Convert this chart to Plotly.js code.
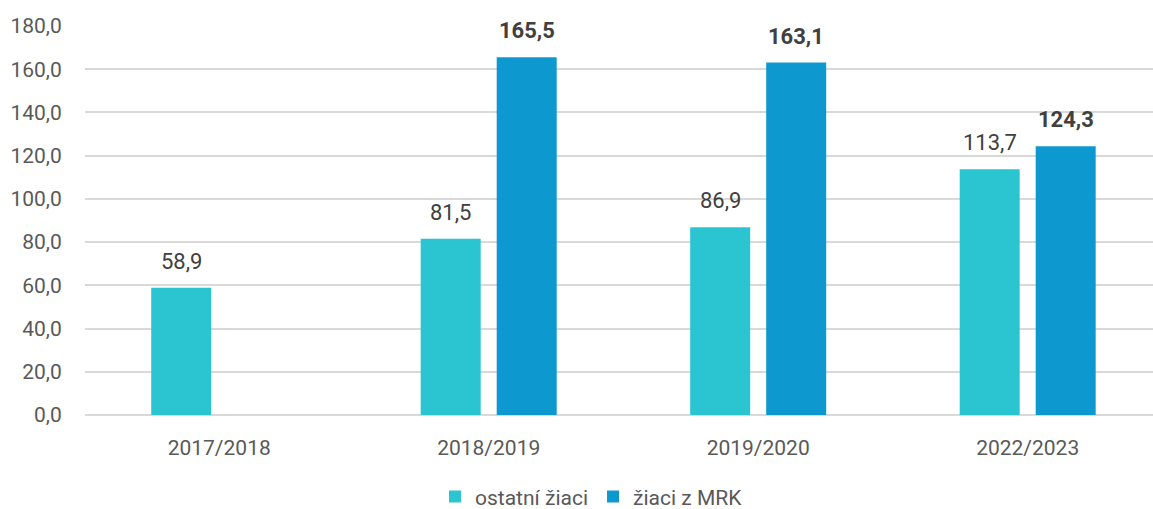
<!DOCTYPE html>
<html>
<head>
<meta charset="utf-8">
<script src="https://cdn.plot.ly/plotly-3.0.1.min.js"></script>
<style>html,body{margin:0;padding:0;background:#fff;}#chart{width:1153px;height:509px;}</style>
</head>
<body>
<div id="chart"></div>
<script>
const categories = ["2017/2018", "2018/2019", "2019/2020", "2022/2023"];
const ostatniZiaci = [58.9, 81.5, 86.9, 113.7];
const ziaciMRK = [null, 165.5, 163.1, 124.3];
const seriesNames = ["ostatní žiaci", "žiaci z MRK"];

const FONT = "Roboto, 'Noto Sans', sans-serif";
const fmt = v => v.toFixed(1).replace(".", ",");

const traces = [
  {
    type: "bar", name: seriesNames[0], x: categories, y: ostatniZiaci,
    marker: {color: "#2BC5D1"}, hoverinfo: "none"
  },
  {
    type: "bar", name: seriesNames[1], x: categories, y: ziaciMRK,
    marker: {color: "#0E98D0"}, hoverinfo: "none"
  }
];

const annotations = [];
categories.forEach((c, i) => {
  if (ostatniZiaci[i] != null) annotations.push({
    x: c, y: ostatniZiaci[i], xref: "x", yref: "y", text: fmt(ostatniZiaci[i]),
    showarrow: false, xanchor: "center", yanchor: "bottom", xshift: -38, yshift: 12,
    font: {family: FONT, size: 22, color: "#404040"}
  });
  if (ziaciMRK[i] != null) annotations.push({
    x: c, y: ziaciMRK[i], xref: "x", yref: "y", text: "<b>" + fmt(ziaciMRK[i]) + "</b>",
    showarrow: false, xanchor: "center", yanchor: "bottom", xshift: 38, yshift: 12,
    font: {family: FONT, size: 22, color: "#404040"}
  });
});

const layout = {
  width: 1153, height: 509,
  margin: {l: 85, r: 0, t: 26, b: 94, autoexpand: false},
  paper_bgcolor: "#fff", plot_bgcolor: "#fff",
  separators: ", ",
  font: {family: FONT, size: 22, color: "#595959"},
  barmode: "group",
  bargap: 0.436,
  bargroupgap: 0.2105,
  annotations: annotations,
  xaxis: {
    type: "category",
    range: [-0.498, 3.465],
    automargin: false,
    showgrid: false, zeroline: false,
    showline: false,
    ticks: "outside", ticklen: 14, tickcolor: "rgba(0,0,0,0)",
    tickfont: {family: FONT, size: 21, color: "#595959"}
  },
  yaxis: {
    range: [0, 180], dtick: 20, tick0: 0,
    tickformat: ".1f",
    automargin: false,
    showgrid: true, gridcolor: "#D9D9D9", gridwidth: 2,
    zeroline: true, zerolinecolor: "#D9D9D9", zerolinewidth: 2,
    showline: false,
    ticks: "outside", ticklen: 18, tickcolor: "rgba(0,0,0,0)",
    tickfont: {family: FONT, size: 21, color: "#595959"}
  },
  showlegend: true,
  legend: {
    orientation: "h", xref: "container", x: 0.513, xanchor: "center",
    yref: "container", y: 0.024, yanchor: "middle",
    font: {family: FONT, size: 21, color: "#595959"},
    itemwidth: 30, traceorder: "normal"
  }
};

Plotly.newPlot("chart", traces, layout, {displayModeBar: false, staticPlot: true});
</script>
</body>
</html>
